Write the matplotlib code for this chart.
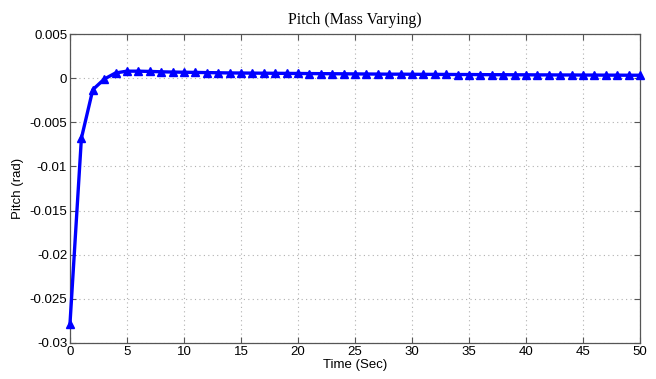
import numpy as np
import matplotlib
matplotlib.use("Agg")
from matplotlib import pyplot as plt

# pitch response, sampled every second
t = list(range(0, 51))
pitch = [-0.0278, -0.0068, -0.0013, -0.0001, 0.0006, 0.0008, 0.0008, 0.00077, 0.00073, 0.0007,
         0.00068, 0.00066, 0.00064, 0.00062, 0.0006, 0.00059, 0.00058, 0.00057, 0.00056, 0.00055,
         0.00054, 0.00053, 0.00052, 0.00051, 0.0005, 0.00049, 0.00048, 0.00047, 0.00046, 0.00046,
         0.00045, 0.00044, 0.00044, 0.00043, 0.00042, 0.00042, 0.00041, 0.0004, 0.0004, 0.00039,
         0.00039, 0.00038, 0.00038, 0.00037, 0.00037, 0.00036, 0.00036, 0.00035, 0.00035, 0.00034,
         0.00034]

xticks = list(range(0, 55, 5))
yticks = [-0.03, -0.025, -0.02, -0.015, -0.01, -0.005, 0, 0.005]
ylabels = ["-0.03", "-0.025", "-0.02", "-0.015", "-0.01", "-0.005", "0", "0.005"]

plt.rcParams['font.family'] = ['Liberation Sans', 'DejaVu Sans']

fig = plt.figure(figsize=(6.56, 3.79), dpi=100)
ax = fig.add_axes([0.1067, 0.095, 0.869, 0.815])

ax.plot(t, pitch, color=(0, 0, 1), lw=2.4, marker="^", ms=5.5, clip_on=False, zorder=5)

ax.set_xlim(0, 50)
ax.set_ylim(-0.03, 0.005)
ax.set_xticks(xticks)
ax.set_yticks(yticks)
ax.set_yticklabels(ylabels)
ax.grid(True, color="#b0b0b0", linestyle=(0, (1, 3)), lw=0.8)
ax.tick_params(direction="in", top=True, right=True, length=4, labelsize=9.5,
               color="#555555", pad=2)
for s in ax.spines.values():
    s.set_color("#555555")
    s.set_linewidth(0.9)

ax.set_xlabel("Time (Sec)", fontsize=9.5, labelpad=1)
ax.set_ylabel("Pitch (rad)", fontsize=9.5, labelpad=4)
ax.set_title("Pitch (Mass Varying)", fontsize=11.3, family=["Liberation Serif"], pad=7)

fig.savefig("out.png", dpi=100)
